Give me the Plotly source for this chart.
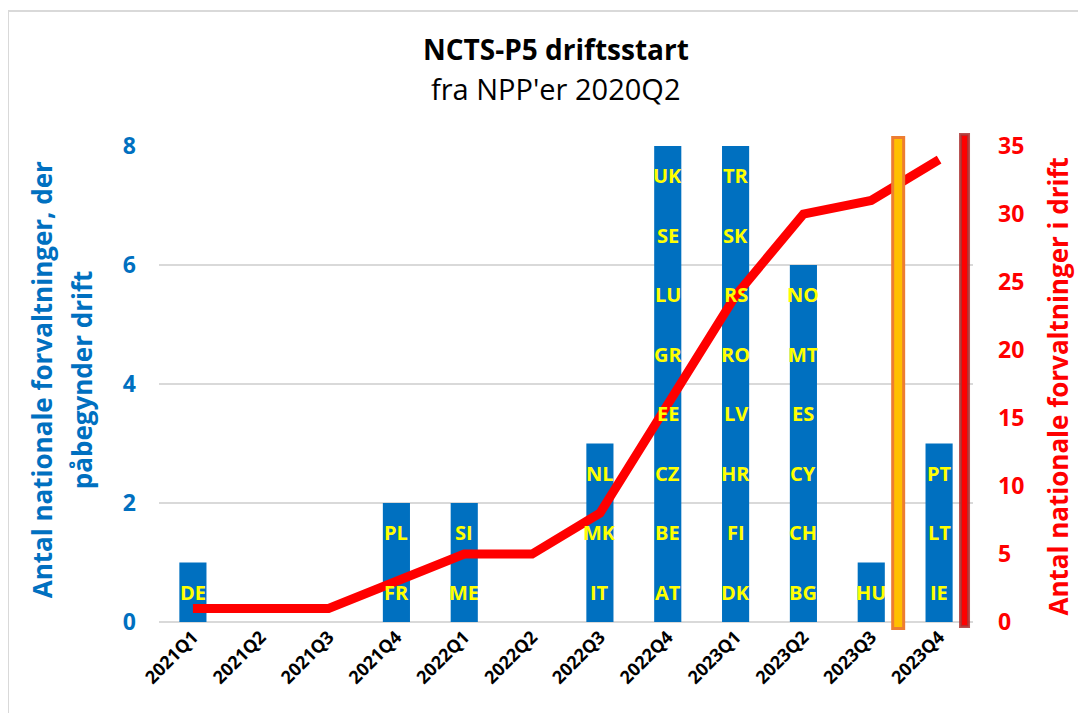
import plotly.graph_objects as go

quarters = ["2021Q1", "2021Q2", "2021Q3", "2021Q4", "2022Q1", "2022Q2",
            "2022Q3", "2022Q4", "2023Q1", "2023Q2", "2023Q3", "2023Q4"]
new_count = [1, 0, 0, 2, 2, 0, 3, 8, 8, 6, 1, 3]
countries = [
    ["DE"], [], [], ["FR", "PL"], ["ME", "SI"], [],
    ["IT", "MK", "NL"],
    ["AT", "BE", "CZ", "EE", "GR", "LU", "SE", "UK"],
    ["DK", "FI", "HR", "LV", "RO", "RS", "SK", "TR"],
    ["BG", "CH", "CY", "ES", "MT", "NO"],
    ["HU"],
    ["IE", "LT", "PT"],
]
cumulative = [1, 1, 1, 3, 5, 5, 8, 16, 24, 30, 31, 34]

title = "NCTS-P5 driftsstart"
subtitle = "fra NPP'er 2020Q2"
left_title_lines = ["Antal nationale forvaltninger, der", "påbegynder drift"]
right_title = "Antal nationale forvaltninger i drift"

BLUE = "#0070C0"
RED = "#FF0000"
FONT = "Open Sans"

fig = go.Figure()
fig.add_trace(go.Bar(x=quarters, y=new_count, marker=dict(color=BLUE, line=dict(width=0)),
                     width=0.4, yaxis="y", hoverinfo="skip"))
fig.add_trace(go.Scatter(x=quarters, y=cumulative, mode="lines", yaxis="y2",
                         line=dict(color=RED, width=9), hoverinfo="skip"))

annotations = []
for q, names in zip(quarters, countries):
    for j, name in enumerate(names):
        annotations.append(dict(x=q, y=j + 0.5, xref="x", yref="y", text=name,
                                showarrow=False, xanchor="center", yanchor="middle",
                                font=dict(family=FONT, size=20, color="#FFFF00", weight="bold")))

common = dict(xref="paper", yref="paper", showarrow=False, xanchor="center", yanchor="middle")
annotations += [
    dict(x=0.4877, y=1.2038, text=title,
         font=dict(family=FONT, size=28, color="black", weight="bold"), **common),
    dict(x=0.4877, y=1.1218, text=subtitle,
         font=dict(family=FONT, size=29, color="black"), **common),
    dict(x=-0.1437, y=0.508, text=left_title_lines[0], textangle=-90,
         font=dict(family=FONT, size=26, color=BLUE, weight="bold"), **common),
    dict(x=-0.0946, y=0.508, text=left_title_lines[1], textangle=-90,
         font=dict(family=FONT, size=26, color=BLUE, weight="bold"), **common),
    dict(x=1.1044, y=0.4947, text=right_title, textangle=-90,
         font=dict(family=FONT, size=26, color=RED, weight="bold"), **common),
]

# vertical marker bars between quarters (category index positions)
orange_pos = 10.397
red_pos = 11.375
shapes = [
    dict(type="rect", xref="x", yref="paper", x0=orange_pos - 0.081, x1=orange_pos + 0.081,
         y0=-0.0137, y1=1.0179, fillcolor="#FFC000", line=dict(color="#ED7D31", width=3),
         layer="above"),
    dict(type="rect", xref="x", yref="paper", x0=red_pos - 0.059, x1=red_pos + 0.059,
         y0=-0.0095, y1=1.0242, fillcolor="#FF0000", line=dict(color="rgba(170,50,50,0.85)", width=3),
         layer="above"),
    dict(type="rect", xref="paper", yref="paper", x0=-0.1855, x1=1.16, y0=-0.25, y1=1.2836,
         fillcolor="rgba(0,0,0,0)", line=dict(color="#D9D9D9", width=2), layer="below"),
]

fig.update_layout(
    width=1086, height=713,
    margin=dict(l=151, r=121, t=138, b=99, autoexpand=False),
    paper_bgcolor="white", plot_bgcolor="white",
    showlegend=False,
    annotations=annotations,
    shapes=shapes,
    xaxis=dict(type="category", range=[-0.5, 11.5], tickangle=-45, showgrid=False,
               showline=False, ticks="",
               tickfont=dict(family=FONT, size=18, color="black", weight="bold")),
    yaxis=dict(range=[0, 8], dtick=2, showgrid=True, gridcolor="#D9D9D9", gridwidth=2,
               zeroline=True, zerolinecolor="#D9D9D9", zerolinewidth=2,
               ticklabelstandoff=22,
               tickfont=dict(family=FONT, size=23, color=BLUE, weight="bold")),
    yaxis2=dict(range=[0, 35], dtick=5, overlaying="y", side="right", showgrid=False,
                zeroline=False, ticklabelstandoff=24,
                tickfont=dict(family=FONT, size=23, color=RED, weight="bold")),
)

fig.write_html("out.html")
